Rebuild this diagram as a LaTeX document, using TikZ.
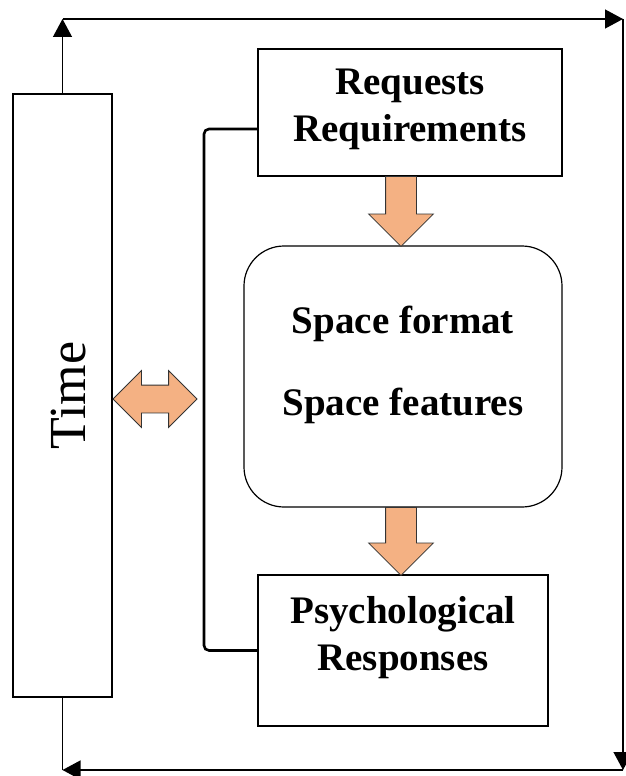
\documentclass[tikz,border=0pt]{standalone}
\usepackage{fontspec}
\setmainfont{Liberation Serif}
\usetikzlibrary{positioning, shapes.arrows, arrows.meta, calc}
\definecolor{blockorange}{RGB}{244,177,131}

\begin{document}
\begin{tikzpicture}[x=1pt,y=-1pt,
    box/.style={draw,line width=1.2pt,inner sep=0pt,align=center,font=\fontsize{39}{47}\selectfont\bfseries},
    loopline/.style={line width=1.3pt,-{Triangle[length=18pt,width=19pt]}},
    blockarrow/.style={single arrow,draw=black!80,line width=0.8pt,fill=blockorange,inner xsep=0pt,inner ysep=15pt,
      single arrow head extend=17pt,minimum width=64pt,rotate=-90,anchor=tail},
    bracket/.style={line width=2.6pt,rounded corners=5pt}]
  \useasboundingbox (0,0) rectangle (625,776);
  % boxes
  \node[box,font=\fontsize{52}{60}\selectfont,rotate=90,minimum width=603pt,minimum height=99pt,
    text height=45pt,text depth=0pt] (time) at (62.5,395.5) {Time};
  \node[box,minimum width=304pt,minimum height=127pt,text depth=14pt] (req) at (410,112.5) {Requests\\Requirements};
  \node[box,rounded corners=40pt,minimum width=318pt,minimum height=261pt,text depth=31pt] (spc) at (403,376.5) {Space format\\[35pt]Space features};
  \node[box,minimum width=290pt,minimum height=151pt,text depth=35pt] (psy) at (403,650.5) {Psychological\\Responses};
  % block arrows
  \node[blockarrow,minimum height=70pt] (down1) at (401,176) {};
  \node[blockarrow,minimum height=68pt] (down2) at (401,507) {};
  \node[double arrow,draw=black!80,line width=0.8pt,fill=blockorange,inner xsep=0pt,inner ysep=13.5pt,
    double arrow head extend=14.5pt,minimum width=56pt,minimum height=84pt] (link) at (155,399) {};
  % bracket
  \coordinate (brk) at (204,0);
  \draw[bracket] ([yshift=-16.5pt]req.west) -| (brk |- psy.west) -- (psy.west);
  % time loop
  \coordinate (tl) at (62.5,19);
  \coordinate (tr) at (623,19);
  \coordinate (br) at (623,770);
  \coordinate (bl) at (62.5,770);
  \draw[loopline] (time.east) -- (tl);
  \draw[loopline] (tl) -- (tr);
  \draw[loopline] (tr) -- (br);
  \draw[loopline] (br) -- (bl);
  \draw[line width=1.3pt] (time.west) -- (bl);
\end{tikzpicture}
\end{document}
